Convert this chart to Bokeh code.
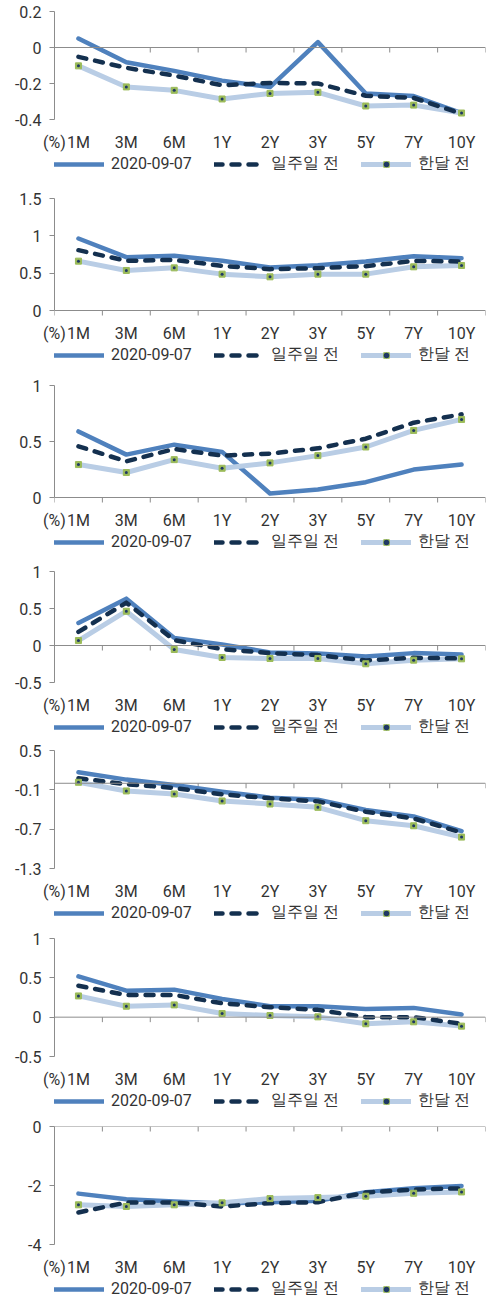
from bokeh.plotting import figure
from bokeh.models import (FixedTicker, Span, Legend, LegendItem, Range1d)
from bokeh.layouts import column
from bokeh.embed import file_html
from bokeh.resources import INLINE

# ---------------- data ----------------
categories = ["1M", "3M", "6M", "1Y", "2Y", "3Y", "5Y", "7Y", "10Y"]
series_names = ["2020-09-07", "일주일 전", "한달 전"]
unit_label = "(%)"

p1_today = [0.05, -0.082, -0.13, -0.184, -0.22, 0.03, -0.256, -0.27, -0.364]
p1_week = [-0.052, -0.113, -0.156, -0.21, -0.197, -0.20, -0.268, -0.28, -0.368]
p1_month = [-0.102, -0.219, -0.238, -0.286, -0.255, -0.249, -0.325, -0.32, -0.364]
p1_yticks = [-0.4, -0.2, 0, 0.2]
p1_ylabels = ["-0.4", "-0.2", "0", "0.2"]

p2_today = [0.964, 0.714, 0.732, 0.665, 0.576, 0.607, 0.656, 0.728, 0.70]
p2_week = [0.808, 0.665, 0.679, 0.598, 0.554, 0.567, 0.594, 0.665, 0.656]
p2_month = [0.661, 0.536, 0.571, 0.487, 0.451, 0.487, 0.487, 0.585, 0.603]
p2_yticks = [0, 0.5, 1, 1.5]
p2_ylabels = ["0", "0.5", "1", "1.5"]

p3_today = [0.59, 0.383, 0.472, 0.407, 0.036, 0.071, 0.137, 0.249, 0.294]
p3_week = [0.457, 0.323, 0.433, 0.374, 0.392, 0.439, 0.525, 0.668, 0.742]
p3_month = [0.294, 0.223, 0.338, 0.261, 0.309, 0.374, 0.451, 0.599, 0.697]
p3_yticks = [0, 0.5, 1]
p3_ylabels = ["0", "0.5", "1"]

p4_today = [0.305, 0.633, 0.103, 0.013, -0.094, -0.108, -0.148, -0.103, -0.121]
p4_week = [0.184, 0.579, 0.072, -0.049, -0.103, -0.13, -0.202, -0.166, -0.175]
p4_month = [0.067, 0.463, -0.054, -0.162, -0.175, -0.175, -0.247, -0.198, -0.18]
p4_yticks = [-0.5, 0, 0.5, 1]
p4_ylabels = ["-0.5", "0", "0.5", "1"]

p5_today = [0.168, 0.056, -0.026, -0.128, -0.219, -0.25, -0.408, -0.505, -0.73]
p5_week = [0.077, -0.015, -0.071, -0.168, -0.23, -0.276, -0.434, -0.536, -0.75]
p5_month = [0.015, -0.117, -0.163, -0.27, -0.316, -0.367, -0.571, -0.648, -0.821]
p5_yticks = [-1.3, -0.7, -0.1, 0.5]
p5_ylabels = ["-1.3", "-0.7", "-0.1", "0.5"]

p6_today = [0.518, 0.337, 0.35, 0.232, 0.139, 0.139, 0.105, 0.118, 0.034]
p6_week = [0.40, 0.282, 0.282, 0.177, 0.126, 0.093, 0.0, 0.0, -0.084]
p6_month = [0.27, 0.139, 0.156, 0.046, 0.021, 0.004, -0.084, -0.059, -0.114]
p6_yticks = [-0.5, 0, 0.5, 1]
p6_ylabels = ["-0.5", "0", "0.5", "1"]

p7_today = [-2.275, -2.465, -2.54, -2.61, -2.566, -2.52, -2.23, -2.095, -2.017]
p7_week = [-2.913, -2.577, -2.577, -2.711, -2.6, -2.566, -2.24, -2.14, -2.095]
p7_month = [-2.655, -2.711, -2.655, -2.588, -2.443, -2.41, -2.364, -2.263, -2.218]
p7_yticks = [-4, -2, 0]
p7_ylabels = ["-4", "-2", "0"]

panel_data = [
    (p1_today, p1_week, p1_month, p1_yticks, p1_ylabels),
    (p2_today, p2_week, p2_month, p2_yticks, p2_ylabels),
    (p3_today, p3_week, p3_month, p3_yticks, p3_ylabels),
    (p4_today, p4_week, p4_month, p4_yticks, p4_ylabels),
    (p5_today, p5_week, p5_month, p5_yticks, p5_ylabels),
    (p6_today, p6_week, p6_month, p6_yticks, p6_ylabels),
    (p7_today, p7_week, p7_month, p7_yticks, p7_ylabels),
]

# ---------------- layout / style ----------------
PAGE_W = 496
FRAME_LEFT = 54
FRAME_RIGHT = 485
top_pad = 11
spans = [108, 112, 112, 111, 118, 118, 118]     # pixel height of each tick range
bottom_pad = 10                                 # room under the lowest tick
strip_h = [58, 54, 53, 47, 49, 49, 51]          # label + legend strip under each chart

C_TODAY = "#4F81BD"
C_WEEK = "#14304F"
C_MONTH = "#B9CDE5"
C_MARK = "#9BBB59"
C_MARK_DOT = "#1F3864"
C_AXIS = "#8C8C8C"
C_TEXT = "#333333"
FONT = "Roboto"
FS = "16px"

x_pos = list(range(1, len(categories) + 1))
bounds = [x - 0.5 for x in x_pos] + [x_pos[-1] + 0.5]
x0, x1 = bounds[0], bounds[-1]


def style_lines(fig, xs, today, week, month):
    r1 = fig.line(xs, today, line_color=C_TODAY, line_width=4.5, line_join="round", line_cap="round")
    r3 = fig.line(xs, month, line_color=C_MONTH, line_width=5, line_join="round", line_cap="round")
    r2 = fig.line(xs, week, line_color=C_WEEK, line_width=4.5, line_dash="8 9",
                  line_join="round", line_cap="round")
    r3m = fig.scatter(xs, month, marker="square", size=6, fill_color=C_MARK, line_color=C_MARK)
    r3d = fig.scatter(xs, month, marker="circle", size=3, fill_color=C_MARK_DOT, line_color=None)
    return r1, r2, r3, r3m, r3d


children = []
for k, (today, week, month, yticks, ylabels) in enumerate(panel_data):
    ymin, ymax = min(yticks), max(yticks)
    per_px = (ymax - ymin) / spans[k]
    p = figure(width=PAGE_W, height=top_pad + spans[k] + bottom_pad,
               x_range=Range1d(x0, x1),
               y_range=Range1d(ymin - bottom_pad * per_px, ymax),
               x_axis_location=None,
               output_backend="svg", toolbar_location=None,
               min_border_left=FRAME_LEFT, min_border_right=PAGE_W - FRAME_RIGHT,
               min_border_top=top_pad, min_border_bottom=0)
    p.outline_line_color = None
    p.xgrid.visible = False
    p.ygrid.visible = False

    ya = p.yaxis[0]
    ya.ticker = FixedTicker(ticks=yticks)
    ya.bounds = (ymin, ymax)
    ya.major_label_overrides = {t: l for t, l in zip(yticks, ylabels)}
    ya.axis_line_color = C_AXIS
    ya.major_tick_line_color = C_AXIS
    ya.major_tick_out = 5
    ya.major_tick_in = 0
    ya.minor_tick_line_color = None
    ya.major_label_standoff = 8
    ya.major_label_text_font = FONT
    ya.major_label_text_font_size = FS
    ya.major_label_text_color = C_TEXT

    # category axis line at zero with boundary ticks
    p.add_layout(Span(location=0, dimension="width", line_color=C_AXIS, line_width=1))
    p.segment(x0=bounds, y0=[0] * len(bounds), x1=bounds, y1=[-5 * per_px] * len(bounds),
              line_color=C_AXIS, line_width=1)

    style_lines(p, x_pos, today, week, month)
    children.append(p)

    # strip: category labels (same x scale) + legend
    lg = figure(width=PAGE_W, height=strip_h[k], x_range=Range1d(x0, x1), y_range=Range1d(0, 1),
                x_axis_location="above", y_axis_location=None, output_backend="svg",
                toolbar_location=None, min_border_left=FRAME_LEFT,
                min_border_right=PAGE_W - FRAME_RIGHT, min_border_top=0, min_border_bottom=0)
    lg.outline_line_color = None
    lg.xgrid.visible = False
    lg.ygrid.visible = False
    xa = lg.xaxis[0]
    xa.ticker = FixedTicker(ticks=[x0] + x_pos)
    overrides = {x: c for x, c in zip(x_pos, categories)}
    overrides[x0] = unit_label
    xa.major_label_overrides = overrides
    xa.axis_line_color = None
    xa.major_tick_line_color = None
    xa.minor_tick_line_color = None
    xa.major_tick_out = 0
    xa.major_tick_in = 0
    xa.major_label_standoff = 2
    xa.major_label_text_font = FONT
    xa.major_label_text_font_size = FS
    xa.major_label_text_color = C_TEXT

    # legend glyphs use the series styles; their data lie outside this strip's view
    l1, l2, l3, l3m, l3d = style_lines(lg, [v + 100 for v in x_pos], today, week, month)
    legend = Legend(items=[LegendItem(label=series_names[0], renderers=[l1]),
                           LegendItem(label=series_names[1], renderers=[l2]),
                           LegendItem(label=series_names[2], renderers=[l3, l3m, l3d])],
                    orientation="horizontal", location="top_left",
                    padding=0, margin=0, spacing=22, glyph_width=50, glyph_height=14,
                    label_height=14, label_standoff=7,
                    label_text_font=FONT, label_text_font_size=FS, label_text_color=C_TEXT,
                    background_fill_alpha=0, border_line_color=None)
    lg.add_layout(legend)
    children.append(lg)

layout = column(*children, spacing=0)
open("out.html", "w").write(file_html(layout, INLINE))
